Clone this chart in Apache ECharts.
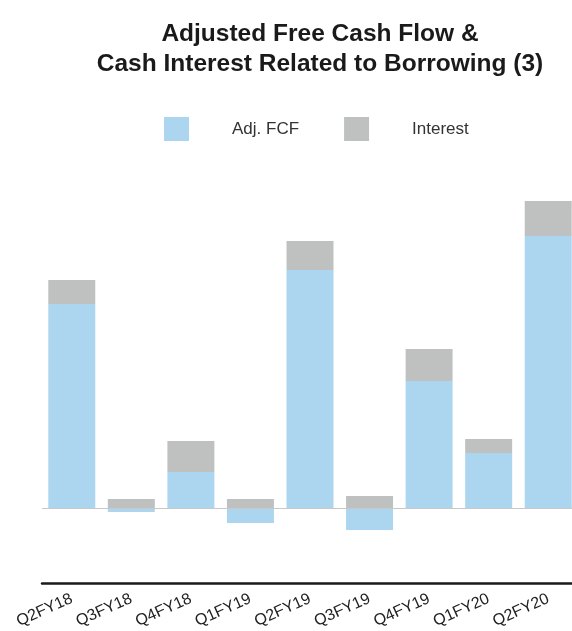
<!DOCTYPE html>
<html>
<head>
<meta charset="utf-8">
<script src="https://cdn.jsdelivr.net/npm/echarts@6/dist/echarts.min.js"></script>
<style>
  html, body { margin: 0; padding: 0; background: #fff; overflow: hidden; }
  /* the plot runs slightly past the right edge of the window */
  #chart { width: 578px; height: 631px; }
</style>
</head>
<body>
<div id="chart"></div>
<script>
// Quarterly figures (same unit for both series)
const quarters = ['Q2FY18', 'Q3FY18', 'Q4FY18', 'Q1FY19', 'Q2FY19', 'Q3FY19', 'Q4FY19', 'Q1FY20', 'Q2FY20'];
const adjFcf = [204, -4, 36, -15, 238, -22, 127, 55, 272];
const interest = [24, 9, 31, 9, 29, 12, 32, 14, 35];

const FONT = '"Liberation Sans", Arial, sans-serif';
const chart = echarts.init(document.getElementById('chart'), null, { renderer: 'canvas' });

chart.setOption({
  animation: false,
  backgroundColor: '#ffffff',
  title: {
    text: 'Adjusted Free Cash Flow &\nCash Interest Related to Borrowing (3)',
    left: 315,
    textAlign: 'center',
    top: 14,
    textStyle: {
      fontFamily: FONT,
      fontSize: 24.5,
      fontWeight: 'bold',
      color: '#1a1a1a',
      lineHeight: 30
    }
  },
  legend: {
    top: 112,
    left: 159,
    itemWidth: 25,
    itemHeight: 24,
    itemGap: 45,
    icon: 'rect',
    selectedMode: false,
    textStyle: {
      fontFamily: FONT,
      fontSize: 17,
      color: '#333333',
      padding: [0, 0, 0, 38]
    },
    data: ['Adj. FCF', 'Interest']
  },
  grid: { left: 42, right: 0, top: 180, bottom: 48 },
  xAxis: {
    type: 'category',
    data: quarters,
    axisLine: { onZero: false, lineStyle: { color: '#1a1a1a', width: 2.5 } },
    axisTick: { show: false },
    axisLabel: {
      interval: 0,
      rotate: 24,
      margin: 15,
      fontFamily: FONT,
      fontSize: 16,
      color: '#222222'
    }
  },
  yAxis: {
    type: 'value',
    min: -75,
    max: 328,
    show: false,
    splitLine: { show: false }
  },
  series: [
    {
      name: 'Adj. FCF',
      type: 'bar',
      stack: 'total',
      barWidth: 47,
      itemStyle: { color: '#acd6ef' },
      data: adjFcf,
      markLine: {
        silent: true,
        symbol: 'none',
        label: { show: false },
        lineStyle: { color: '#c8c8c8', width: 1, type: 'solid' },
        data: [{ yAxis: 0 }]
      }
    },
    {
      name: 'Interest',
      type: 'bar',
      stack: 'total',
      barWidth: 47,
      itemStyle: { color: '#bfc1c1' },
      data: interest
    }
  ]
});
</script>
</body>
</html>
